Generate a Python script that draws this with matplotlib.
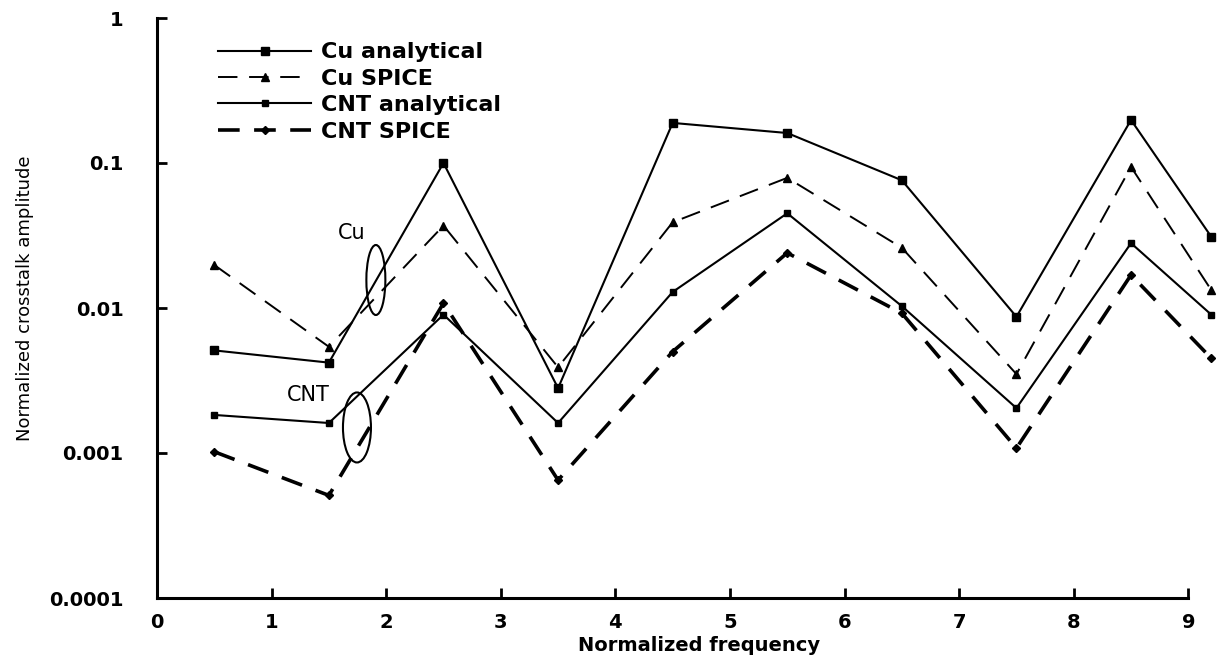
import numpy as np
import matplotlib
matplotlib.use("Agg")
import matplotlib.pyplot as plt
from matplotlib.patches import Ellipse

# normalized frequency points
freq = [0.5, 1.5, 2.5, 3.5, 4.5, 5.5, 6.5, 7.5, 8.5, 9.2]

# normalized crosstalk amplitude
cu_analytical = [0.0051, 0.0042, 0.100, 0.0028, 0.189, 0.161, 0.076, 0.0087, 0.198, 0.031]
cu_spice = [0.0198, 0.0054, 0.037, 0.0039, 0.039, 0.079, 0.026, 0.0035, 0.094, 0.0133]
cnt_analytical = [0.00183, 0.00161, 0.0090, 0.00161, 0.0129, 0.045, 0.0103, 0.00204, 0.028, 0.0090]
cnt_spice = [0.00102, 0.00051, 0.0108, 0.00065, 0.0050, 0.024, 0.0092, 0.00108, 0.0169, 0.0045]

x_ticks = list(range(10))
y_ticks = [0.0001, 0.001, 0.01, 0.1, 1]
y_tick_labels = ["0.0001", "0.001", "0.01", "0.1", "1"]

plt.rcParams['font.family'] = ['DejaVu Sans']

fig = plt.figure(figsize=(12.25, 6.6), dpi=100)
ax = fig.add_axes([157 / 1225, 62 / 660, 1068 / 1225, 580 / 660])

ax.plot(freq, cu_analytical, color='black', lw=1.5, marker='s', ms=6,
        label='Cu analytical')
ax.plot(freq, cu_spice, color='black', lw=1.4, linestyle=(0, (10, 6)),
        marker='^', ms=6, label='Cu SPICE')
ax.plot(freq, cnt_analytical, color='black', lw=1.5, marker='s', ms=5,
        label='CNT analytical')
ax.plot(freq, cnt_spice, color='black', lw=2.6, linestyle=(0, (6, 4)),
        marker='D', ms=4.5, label='CNT SPICE')

ax.set_yscale('log')
ax.set_ylim(1e-4, 1)
ax.set_xlim(0, 9.32)

for side in ['top', 'right']:
    ax.spines[side].set_visible(False)
for side in ['left', 'bottom']:
    ax.spines[side].set_linewidth(2.2)
ax.spines['bottom'].set_bounds(0, 9)

ax.set_xticks(x_ticks)
ax.set_xticklabels([str(t) for t in x_ticks], fontsize=14, fontweight='bold')
ax.set_yticks(y_ticks)
ax.set_yticklabels(y_tick_labels, fontsize=14, fontweight='bold')
ax.yaxis.set_minor_locator(matplotlib.ticker.NullLocator())
ax.tick_params(axis='both', direction='in', length=7, width=2)
ax.tick_params(axis='y', pad=24)
ax.tick_params(axis='x', pad=11)

ax.set_xlabel('Normalized frequency', fontsize=14, fontweight='bold')
ax.xaxis.set_label_coords(0.508, -0.066)
ax.set_ylabel('Normalized crosstalk amplitude', fontsize=13)
ax.yaxis.set_label_coords(-0.115, 0.517)

ax.legend(loc='upper left', bbox_to_anchor=(0.057, 0.958), frameon=False,
          prop={'weight': 'bold', 'size': 16},
          handlelength=4.2, handletextpad=0.45, labelspacing=0.29,
          borderpad=0, borderaxespad=0)

# ellipses marking the Cu and CNT curve groups
def mark_group(xc, yc, w_px, h_px, text, tx, ty):
    cx, cy = ax.transAxes.inverted().transform(ax.transData.transform((xc, yc)))
    ax.add_patch(Ellipse((cx, cy), w_px / 1068, h_px / 580, transform=ax.transAxes,
                         fill=False, edgecolor='black', lw=1.5))
    ax.text(tx, ty, text, fontsize=15, ha='center', va='center')

mark_group(1.91, 0.0156, 19, 70, 'Cu', 1.70, 0.033)
mark_group(1.745, 0.0015, 28, 70, 'CNT', 1.32, 0.0025)

fig.savefig('out.png', dpi=100)
